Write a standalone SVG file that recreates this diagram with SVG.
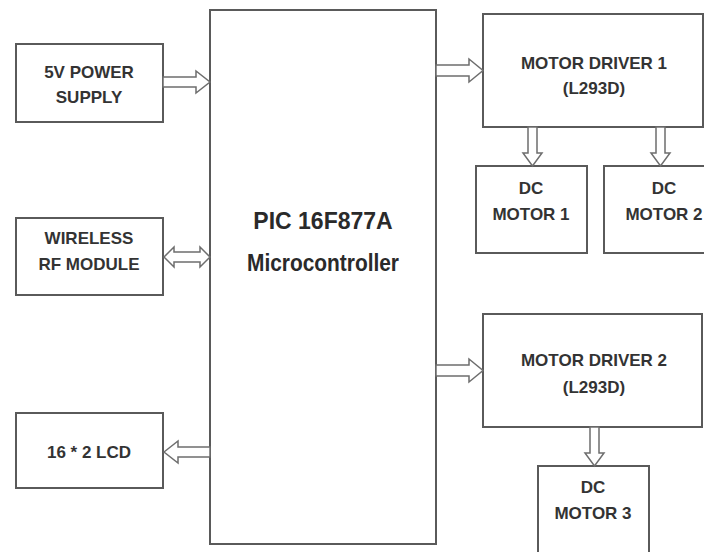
<svg xmlns="http://www.w3.org/2000/svg" width="704" height="552" viewBox="0 0 704 552">
<style>
.box{fill:#fff;stroke:#5a5a5a;stroke-width:2}
.arr{fill:#fff;stroke:#6e6e6e;stroke-width:1.5;stroke-linejoin:miter}
.t{font-family:"Liberation Sans",Arial,sans-serif;font-size:17px;font-weight:bold;fill:#333;text-anchor:middle}
.big{font-family:"Liberation Sans",Arial,sans-serif;font-size:23px;font-weight:bold;fill:#2a2a2a;text-anchor:middle}
</style>
<rect width="704" height="552" fill="#fff"/>
<g id="mcu">
<rect class="box" x="210" y="10" width="226" height="534"/>
<text class="big" x="323" y="229">PIC 16F877A</text>
<text class="big" x="323" y="271" textLength="152" lengthAdjust="spacingAndGlyphs">Microcontroller</text>
</g>
<g id="power">
<rect class="box" x="16" y="44" width="147" height="78"/>
<text class="t" x="89" y="78">5V POWER</text>
<text class="t" x="89" y="103">SUPPLY</text>
</g>
<g id="wireless">
<rect class="box" x="16" y="218" width="147" height="77"/>
<text class="t" x="89" y="244">WIRELESS</text>
<text class="t" x="89" y="270">RF MODULE</text>
</g>
<g id="lcd">
<rect class="box" x="16" y="413" width="147" height="75"/>
<text class="t" x="89" y="458">16 * 2 LCD</text>
</g>
<g id="driver1">
<rect class="box" x="483" y="14" width="220" height="113"/>
<text class="t" x="594" y="69">MOTOR DRIVER 1</text>
<text class="t" x="594" y="94">(L293D)</text>
</g>
<g id="motor1">
<rect class="box" x="476" y="166" width="111" height="87"/>
<text class="t" x="531" y="194">DC</text>
<text class="t" x="531" y="220">MOTOR 1</text>
</g>
<g id="motor2">
<rect class="box" x="604" y="166" width="110" height="87"/>
<text class="t" x="664" y="194">DC</text>
<text class="t" x="664" y="220">MOTOR 2</text>
</g>
<g id="driver2">
<rect class="box" x="483" y="314" width="219" height="113"/>
<text class="t" x="594" y="366">MOTOR DRIVER 2</text>
<text class="t" x="594" y="393">(L293D)</text>
</g>
<g id="motor3">
<rect class="box" x="538" y="466" width="111" height="95"/>
<text class="t" x="593" y="493">DC</text>
<text class="t" x="593" y="519">MOTOR 3</text>
</g>
<g id="connectors">
<polygon class="arr" points="163,77 196,77 196,71 210,82 196,93 196,87 163,87"/>
<polygon class="arr" points="164,257 174,247 174,252 200,252 200,247 210,257 200,267 200,262 174,262 174,267"/>
<polygon class="arr" points="164,452 178,441 178,447 210,447 210,457 178,457 178,463"/>
<polygon class="arr" points="436,65 469,65 469,59 483,70.5 469,82 469,76 436,76"/>
<polygon class="arr" points="436,365 469,365 469,359 483,370.5 469,382 469,376 436,376"/>
<polygon class="arr" points="528,127 537,127 537,153 542,153 532.5,166 523,153 528,153"/>
<polygon class="arr" points="656,127 665,127 665,153 670,153 660.5,166 651,153 656,153"/>
<polygon class="arr" points="590,427 599,427 599,453 604,453 594.5,466 585,453 590,453"/>
</g>
</svg>
